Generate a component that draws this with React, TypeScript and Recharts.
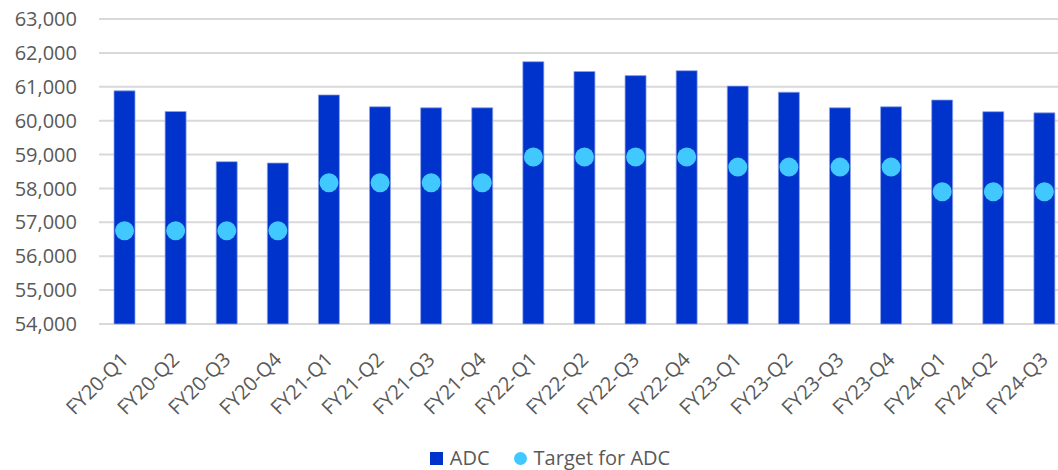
import React from 'react';
import {
  ComposedChart,
  Bar,
  Scatter,
  XAxis,
  YAxis,
  CartesianGrid,
  Legend
} from 'recharts';

const quarters = [
  'FY20-Q1', 'FY20-Q2', 'FY20-Q3', 'FY20-Q4',
  'FY21-Q1', 'FY21-Q2', 'FY21-Q3', 'FY21-Q4',
  'FY22-Q1', 'FY22-Q2', 'FY22-Q3', 'FY22-Q4',
  'FY23-Q1', 'FY23-Q2', 'FY23-Q3', 'FY23-Q4',
  'FY24-Q1', 'FY24-Q2', 'FY24-Q3'
];

const adc = [
  60880, 60270, 58790, 58750,
  60760, 60410, 60380, 60380,
  61740, 61450, 61330, 61475,
  61020, 60840, 60380, 60410,
  60610, 60265, 60230
];

const targetForAdc = [
  56750, 56750, 56750, 56750,
  58170, 58170, 58170, 58170,
  58930, 58930, 58930, 58930,
  58630, 58630, 58630, 58630,
  57900, 57900, 57900
];

const yTicks = [54000, 55000, 56000, 57000, 58000, 59000, 60000, 61000, 62000, 63000];

const BAR_COLOR = '#0033CC';
const DOT_COLOR = '#40C8FF';
const TEXT_COLOR = '#595959';
const FONT = '"Open Sans", "Noto Sans", sans-serif';

const data = quarters.map((q, i) => ({ quarter: q, adc: adc[i], target: targetForAdc[i] }));

// Excel-style rotated category label
const AngledTick = ({ x, y, payload }: any) => {
  const tx = x + 5;
  const ty = y + 37;
  return (
    <text
      x={tx}
      y={ty}
      transform={`rotate(-45, ${tx}, ${ty})`}
      textAnchor="end"
      fill={TEXT_COLOR}
      fontSize={20}
      fontFamily={FONT}
    >
      {payload.value}
    </text>
  );
};

const Dot = (props: any) => {
  if (props.cx == null || props.cy == null) return null;
  return <circle cx={props.cx} cy={props.cy} r={9.5} fill={DOT_COLOR} />;
};

const LegendContent = () => (
  <div
    style={{
      display: 'flex',
      justifyContent: 'center',
      alignItems: 'center',
      fontFamily: FONT,
      fontSize: 20,
      color: TEXT_COLOR,
      lineHeight: '24px'
    }}
  >
    <span style={{ width: 13, height: 13, background: BAR_COLOR, display: 'inline-block', marginRight: 7 }} />
    <span>ADC</span>
    <span
      style={{
        width: 13,
        height: 13,
        borderRadius: '50%',
        background: DOT_COLOR,
        display: 'inline-block',
        marginLeft: 24,
        marginRight: 7
      }}
    />
    <span>Target for ADC</span>
  </div>
);

export default function App() {
  return (
    <div style={{ position: 'absolute', left: 0, top: 0, width: 1058, height: 470, overflow: 'hidden', background: '#fff' }}>
      <ComposedChart
        width={1075}
        height={470}
        data={data}
        margin={{ top: 19, right: 5, left: 0, bottom: 0 }}
      >
        <CartesianGrid vertical={false} stroke="#D9D9D9" strokeWidth={2} />
        <XAxis
          dataKey="quarter"
          height={146}
          axisLine={false}
          tickLine={false}
          tickSize={0}
          tickMargin={0}
          interval={0}
          tick={<AngledTick />}
        />
        <YAxis
          width={99}
          domain={[54000, 63000]}
          ticks={yTicks}
          axisLine={false}
          tickLine={false}
          tickMargin={16}
          tickFormatter={(v: number) => v.toLocaleString('en-US')}
          tick={{ fill: TEXT_COLOR, fontSize: 20, fontFamily: FONT }}
        />
        <Legend
          verticalAlign="middle"
          align="center"
          layout="horizontal"
          content={<LegendContent />}
          wrapperStyle={{ top: 446, left: 0, width: 1100 }}
        />
        <Bar
          dataKey="adc"
          name="ADC"
          barSize={21}
          fill={BAR_COLOR}
          stroke="#8FA3EA"
          strokeWidth={0.75}
          isAnimationActive={false}
        />
        <Scatter dataKey="target" name="Target for ADC" shape={<Dot />} isAnimationActive={false} />
      </ComposedChart>
    </div>
  );
}
